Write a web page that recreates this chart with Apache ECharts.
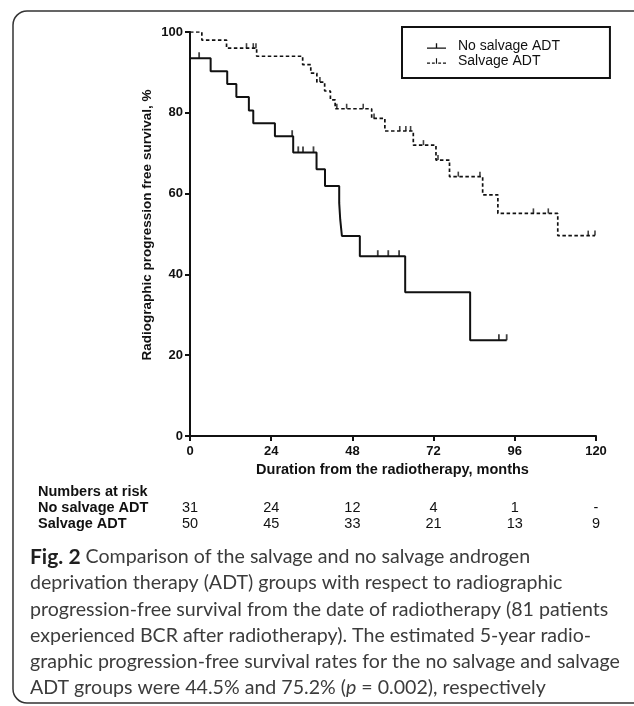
<!DOCTYPE html>
<html>
<head>
<meta charset="utf-8">
<script src="https://cdn.jsdelivr.net/npm/echarts@6/dist/echarts.min.js"></script>
<style>
html,body{margin:0;padding:0;background:#fff;}
#chart{width:634px;height:706px;}
</style>
</head>
<body>
<div id="chart"></div>
<script>
// ---------- data ----------
const seriesNames = ['No salvage ADT', 'Salvage ADT'];
const xTickValues = [0, 24, 48, 72, 96, 120];
// Kaplan-Meier step points: time (months) and survival (%)
const noSalvageTime = [0, 0, 6.1, 11.0, 13.7, 17.4, 18.7, 25.1, 30.5, 37.4, 39.9, 44.1, 44.4, 44.9, 50.2, 63.6, 82.8, 93.6];
const noSalvageSurv = [100, 93.5, 90.3, 87.1, 83.9, 80.6, 77.4, 74.2, 70.2, 66.0, 61.9, 57.7, 53.6, 49.5, 44.5, 35.6, 23.7, 23.7];
const salvageTime = [0, 3.5, 10.8, 19.7, 33.3, 35.7, 37.5, 39.8, 41.5, 42.9, 53.7, 57.6, 66.0, 72.7, 76.7, 86.5, 91.0, 108.7, 119.7];
const salvageSurv = [100, 98.0, 96.0, 94.0, 91.9, 89.8, 87.6, 85.4, 83.2, 81.0, 78.6, 75.5, 72.0, 68.3, 64.2, 59.7, 55.1, 49.6, 49.6];
// censored observations
const noSalvageCensorTime = [2.7, 30.2, 32.0, 33.4, 36.5, 55.5, 58.6, 61.8, 91.3, 93.6];
const noSalvageCensorSurv = [93.5, 74.2, 70.2, 70.2, 70.2, 44.5, 44.5, 44.5, 23.7, 23.7];
const salvageCensorTime = [16.7, 18.7, 19.5, 38.4, 43.4, 46.3, 51.2, 54.4, 62.0, 63.8, 65.2, 69.0, 73.3, 79.3, 85.7, 101.5, 105.9, 117.7, 119.7];
const salvageCensorSurv = [96.0, 96.0, 96.0, 87.6, 81.0, 81.0, 81.0, 78.6, 75.5, 75.5, 75.5, 72.0, 68.3, 64.2, 64.2, 55.1, 55.1, 49.6, 49.6];
// numbers at risk
const riskLabels = ['Numbers at risk', 'No salvage ADT', 'Salvage ADT'];
const noSalvageRisk = ['31', '24', '12', '4', '1', '-'];
const salvageRisk = ['50', '45', '33', '21', '13', '9'];
// texts
const xTitle = 'Duration from the radiotherapy, months';
const yTitle = 'Radiographic progression free survival, %';
const captionLines = [
  '{b|Fig. 2} Comparison of the salvage and no salvage androgen',
  'deprivation therapy (ADT) groups with respect to radiographic',
  'progression-free survival from the date of radiotherapy (81 patients',
  'experienced BCR after radiotherapy). The estimated 5-year radio-',
  'graphic progression-free survival rates for the no salvage and salvage',
  'ADT groups were 44.5% and 75.2% ({i|p} = 0.002), respectively'
];

// ---------- build ----------
const zip = (a, b) => a.map((v, i) => [v, b[i]]);
const AX = 'Liberation Sans, Arial, sans-serif';
const CAP = 'Lato, "Open Sans", sans-serif';

const chart = echarts.init(document.getElementById('chart'));

const riskAxis = (arr, offset) => ({
  type: 'value', min: 0, max: 120, interval: 24, position: 'bottom', offset: offset,
  gridIndex: 0,
  axisLine: {show: false}, axisTick: {show: false}, splitLine: {show: false},
  axisLabel: {
    margin: 0, color: '#111', fontFamily: AX, fontSize: 14.5,
    showMinLabel: true, showMaxLabel: true,
    formatter: v => arr[Math.round(v / 24)]
  }
});

const captionGraphics = captionLines.map((t, i) => ({
  type: 'text', x: 30, y: 557 + i * 26.1, silent: true,
  style: {
    text: t, x: 0, y: 0, fill: '#3c3c3c', font: '19.6px ' + CAP,
    verticalAlign: 'middle', align: 'left',
    rich: {
      b: {font: 'bold 21px ' + CAP, fill: '#1f1f1f'},
      i: {font: 'italic 19.6px ' + CAP, fill: '#3c3c3c'}
    }
  }
}));

const option = {
  backgroundColor: '#fff',
  animation: false,
  grid: {left: 190, top: 32, width: 406, height: 404, containLabel: false},
  legend: {
    orient: 'vertical', left: 402, top: 27,
    padding: [12, 50, 10, 25], itemGap: 1,
    itemWidth: 19, itemHeight: 8,
    borderColor: '#111', borderWidth: 2, borderRadius: 0,
    textStyle: {fontFamily: AX, fontSize: 14, color: '#111', lineHeight: 14, padding: [0, 0, 0, 7]},
    data: [
      {name: seriesNames[0], icon: 'path://M0,6h20v1.4h-20zM9.3,1.5h1.4v5h-1.4z', itemStyle: {color: '#111'}},
      {name: seriesNames[1], icon: 'path://M0,6h3.2v1.2h-3.2zM5.2,6h3v1.2h-3zM9.4,1.5h1.2v5.7h-1.2zM11.8,6h3v1.2h-3zM16.8,6h3.2v1.2h-3.2z', itemStyle: {color: '#111'}}
    ]
  },
  xAxis: [
    {
      type: 'value', min: 0, max: 120, interval: 24,
      axisLine: {lineStyle: {color: '#111', width: 2}},
      axisTick: {length: 5, lineStyle: {color: '#111', width: 2}},
      splitLine: {show: false},
      axisLabel: {margin: 9, color: '#111', fontFamily: AX, fontWeight: 'bold', fontSize: 13, showMinLabel: true, showMaxLabel: true}
    },
    riskAxis(noSalvageRisk, 64),
    riskAxis(salvageRisk, 80)
  ],
  yAxis: {
    type: 'value', min: 0, max: 100, interval: 20,
    axisLine: {lineStyle: {color: '#111', width: 2}},
    axisTick: {length: 5, lineStyle: {color: '#111', width: 2}},
    splitLine: {show: false},
    axisLabel: {margin: 7, color: '#111', fontFamily: AX, fontWeight: 'bold', fontSize: 13}
  },
  series: [
    {
      name: seriesNames[0], type: 'line', step: 'end', symbol: 'none',
      lineStyle: {color: '#111', width: 2},
      itemStyle: {color: '#111'},
      data: zip(noSalvageTime, noSalvageSurv), z: 3
    },
    {
      name: seriesNames[1], type: 'line', step: 'end', symbol: 'none',
      lineStyle: {color: '#111', width: 1.7, type: [3.5, 2.5]},
      itemStyle: {color: '#111'},
      data: zip(salvageTime, salvageSurv), z: 3
    },
    {
      name: seriesNames[0] + ' censored', type: 'scatter', symbol: 'rect',
      symbolSize: [1.8, 6], symbolOffset: [0, -3],
      itemStyle: {color: '#111'}, data: zip(noSalvageCensorTime, noSalvageCensorSurv), z: 4
    },
    {
      name: seriesNames[1] + ' censored', type: 'scatter', symbol: 'rect',
      symbolSize: [1.6, 5], symbolOffset: [0, -2.5],
      itemStyle: {color: '#111'}, data: zip(salvageCensorTime, salvageCensorSurv), z: 4
    }
  ],
  graphic: [
    {type: 'rect', silent: true, shape: {x: 13, y: 11, width: 640, height: 692, r: 14},
     style: {fill: 'none', stroke: '#333', lineWidth: 1.5}, z: -1},
    {type: 'text', silent: true, x: 147, y: 225, rotation: Math.PI / 2,
     style: {text: yTitle, x: 0, y: 0, align: 'center', verticalAlign: 'middle', font: 'bold 13.5px ' + AX, fill: '#111'}},
    {type: 'text', silent: true, x: 392.5, y: 470,
     style: {text: xTitle, x: 0, y: 0, align: 'center', verticalAlign: 'middle', font: 'bold 14.5px ' + AX, fill: '#111'}},
    ...riskLabels.map((t, i) => ({type: 'text', silent: true, x: 38, y: [492, 508, 524][i],
      style: {text: t, x: 0, y: 0, align: 'left', verticalAlign: 'middle', font: 'bold 14.5px ' + AX, fill: '#111'}})),
    ...captionGraphics
  ]
};
chart.setOption(option);
</script>
</body>
</html>
